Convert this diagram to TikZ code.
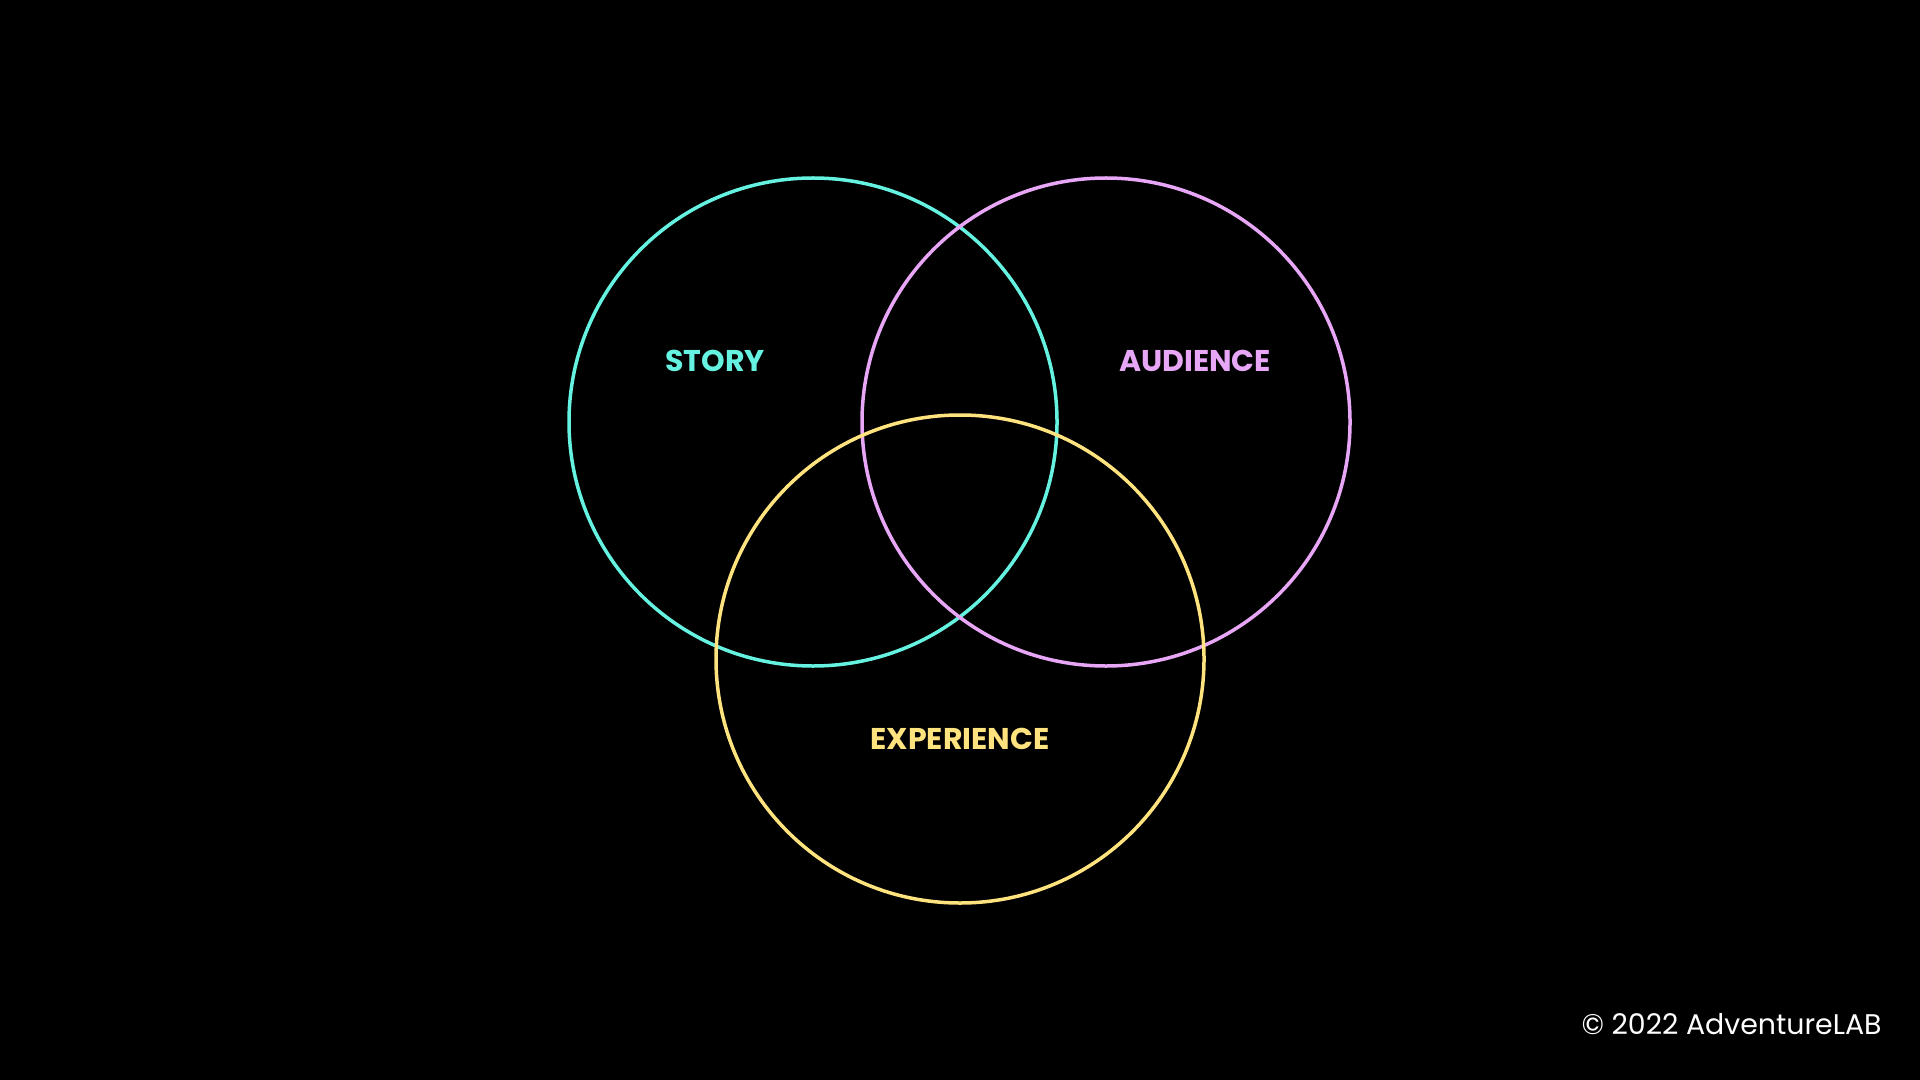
\documentclass[tikz,border=0pt]{standalone}
\usepackage{fontspec}
\setmainfont{Poppins}
\usepackage{tikz}

\definecolor{storycol}{HTML}{66F2E0}
\definecolor{audiencecol}{HTML}{E8A6F6}
\definecolor{experiencecol}{HTML}{FFE37E}

\tikzset{
  ring/.style={line width=1.75pt},
  setlabel/.style={font=\fontsize{15}{18}\selectfont\bfseries, inner sep=0pt}
}

\begin{document}
\begin{tikzpicture}[x=0.5pt, y=-0.5pt]
            \fill[black] (0,0) rectangle (1920,1080);
            \useasboundingbox (0,0) rectangle (1920,1080);

            \coordinate (cs) at (813, 422);
            \coordinate (ca) at (1106, 422);
            \coordinate (ce) at (960, 659);

            \draw[ring, storycol] (cs) circle [radius=244];
            \draw[ring, audiencecol] (ca) circle [radius=244];
            \draw[ring, experiencecol] (ce) circle [radius=244];

            \node[setlabel, text=storycol] (story) at (715, 361) {STORY};
            \node[setlabel, text=audiencecol] (audience) at (1195, 361) {AUDIENCE};
            \node[setlabel, text=experiencecol] (experience) at (960, 739) {EXPERIENCE};

            \node[white, font=\fontsize{14.2}{17}\selectfont, anchor=east, inner sep=0pt] (copy) at (1882, 1024) {© 2022 AdventureLAB};
        \end{tikzpicture}
\end{document}
